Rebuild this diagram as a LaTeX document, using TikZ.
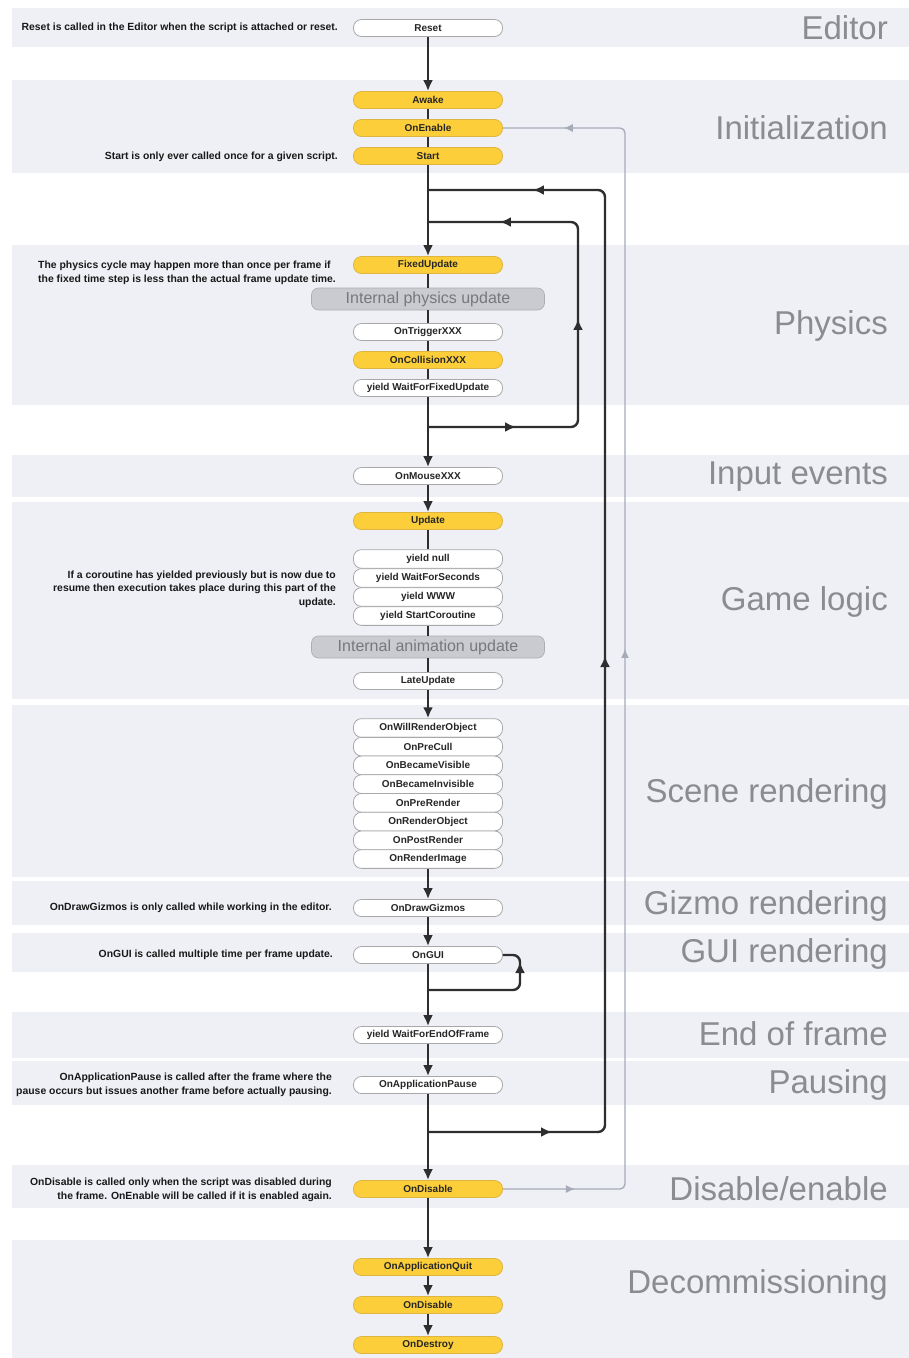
\documentclass[tikz,border=0pt]{standalone}
\usepackage{fontspec}
\setmainfont{Liberation Sans}
\usetikzlibrary{arrows.meta,decorations.markings}
\definecolor{bandcol}{HTML}{EFF0F5}
\definecolor{gold}{HTML}{FCCF3A}
\definecolor{goldline}{HTML}{E0B440}
\definecolor{boxline}{HTML}{A8A8A8}
\definecolor{secgray}{HTML}{8A8C92}
\definecolor{linecol}{HTML}{2E2E2E}
\definecolor{loopgray}{HTML}{A5ABB8}
\definecolor{intfill}{HTML}{C9CBD0}
\definecolor{inttext}{HTML}{76787E}
\tikzset{
 ev/.style={draw=boxline, line width=0.8pt, fill=white, rounded corners=8pt, minimum width=149pt, minimum height=17pt, inner sep=0pt, font=\bfseries\fontsize{10}{11}\selectfont, text=black!85},
 evy/.style={ev, fill=gold, draw=goldline},
 stk/.style={ev, minimum height=18.7pt},
 intbox/.style={fill=intfill, draw=intfill!85!black, line width=0.6pt, rounded corners=7pt, minimum width=233pt, minimum height=22pt, inner sep=0pt, font=\fontsize{16}{18}\selectfont, text=inttext},
 sect/.style={anchor=east, text=secgray, font=\fontsize{33}{36}\selectfont, inner sep=0pt},
 note/.style={font=\bfseries\fontsize{10.4}{13.5}\selectfont, text=black!90, inner sep=0pt, anchor=east, align=right},
 flow/.style={draw=linecol, line width=2.4pt, -{Latex[length=11pt,width=10pt]}},
 link/.style={draw=linecol, line width=2.4pt},
 loopline/.style={draw=linecol, line width=2.4pt, rounded corners=7pt},
 grayloop/.style={draw=loopgray, line width=1.3pt, rounded corners=5pt},
 bandbox/.style={fill=bandcol, draw=none}
}
\begin{document}
\begin{tikzpicture}[x=1pt,y=-1pt]
\useasboundingbox (0,0) rectangle (909,1358);
\fill[white] (0,0) rectangle (909,1358);
% bands
\fill[bandbox] (12,8) rectangle (909,47);
\fill[bandbox] (12,80) rectangle (909,173);
\fill[bandbox] (12,245) rectangle (909,405);
\fill[bandbox] (12,455) rectangle (909,497);
\fill[bandbox] (12,502) rectangle (909,699);
\fill[bandbox] (12,705) rectangle (909,877);
\fill[bandbox] (12,881) rectangle (909,925);
\fill[bandbox] (12,933) rectangle (909,972);
\fill[bandbox] (12,1012) rectangle (909,1058);
\fill[bandbox] (12,1061) rectangle (909,1105);
\fill[bandbox] (12,1165) rectangle (909,1208);
\fill[bandbox] (12,1240) rectangle (909,1358);
% section labels
\node[sect] (lEditor) at (888,28) {Editor};
\node[sect] (lInit) at (888,128) {Initialization};
\node[sect] (lPhys) at (888,326) {Physics};
\node[sect] (lInput) at (888,477) {Input events};
\node[sect] (lGame) at (888,602) {Game logic};
\node[sect] (lScene) at (888,794) {Scene rendering};
\node[sect] (lGizmo) at (888,906) {Gizmo rendering};
\node[sect] (lGUI) at (888,954) {GUI rendering};
\node[sect] (lEnd) at (888,1034) {End of frame};
\node[sect] (lPause) at (888,1085) {Pausing};
\node[sect] (lDis) at (888,1189) {Disable/enable};
\node[sect] (lDecom) at (888,1285) {Decommissioning};
% loop coordinates
\coordinate (o1) at (428,1132); \coordinate (o2) at (605,1132);
\coordinate (o3) at (605,190); \coordinate (o4) at (428,190);
\coordinate (i1) at (428,427); \coordinate (i2) at (578,427);
\coordinate (i3) at (578,222); \coordinate (i4) at (428,222);
\coordinate (g2) at (625,1189); \coordinate (g3) at (625,128);
\coordinate (u1) at (428,990); \coordinate (u2) at (520,990); \coordinate (u3) at (520,955);
% events
\node[ev] (reset) at (428,28) {Reset};
\node[evy] (awake) at (428,100) {Awake};
\node[evy] (onenable) at (428,128) {OnEnable};
\node[evy] (start) at (428,156) {Start};
\node[evy] (fixed) at (428,265) {FixedUpdate};
\node[intbox] (phys) at (428,299) {Internal physics update};
\node[ev] (trigger) at (428,332) {OnTriggerXXX};
\node[evy] (collision) at (428,360) {OnCollisionXXX};
\node[ev] (wffu) at (428,388) {yield WaitForFixedUpdate};
\node[ev] (mouse) at (428,476) {OnMouseXXX};
\node[evy] (update) at (428,521) {Update};
\node[stk] (ynull) at (428,559) {yield null};
\node[stk] (ywfs) at (428,578) {yield WaitForSeconds};
\node[stk] (ywww) at (428,597) {yield WWW};
\node[stk] (ysc) at (428,616) {yield StartCoroutine};
\node[intbox] (anim) at (428,647) {Internal animation update};
\node[ev] (late) at (428,681) {LateUpdate};
\node[stk] (s1) at (428,728) {OnWillRenderObject};
\node[stk] (s2) at (428,746.7) {OnPreCull};
\node[stk] (s3) at (428,765.4) {OnBecameVisible};
\node[stk] (s4) at (428,784.1) {OnBecameInvisible};
\node[stk] (s5) at (428,802.9) {OnPreRender};
\node[stk] (s6) at (428,821.6) {OnRenderObject};
\node[stk] (s7) at (428,840.3) {OnPostRender};
\node[stk] (s8) at (428,859) {OnRenderImage};
\node[ev] (gizmos) at (428,908) {OnDrawGizmos};
\node[ev] (gui) at (428,955) {OnGUI};
\node[ev] (weof) at (428,1035) {yield WaitForEndOfFrame};
\node[ev] (pause) at (428,1085) {OnApplicationPause};
\node[evy] (disable) at (428,1189) {OnDisable};
\node[evy] (quit) at (428,1267) {OnApplicationQuit};
\node[evy] (disable2) at (428,1305) {OnDisable};
\node[evy] (destroy) at (428,1345) {OnDestroy};
% annotations
\node[note] (nReset) at (338,28) {Reset is called in the Editor when the script is attached or reset.};
\node[note] (nStart) at (338,157) {Start is only ever called once for a given script.};
\node[note, anchor=west, align=left] (nPhys) at (38,273) {The physics cycle may happen more than once per frame if\\the fixed time step is less than the actual frame update time.};
\node[note] (nCo) at (336,589) {If a coroutine has yielded previously but is now due to\\resume then execution takes place during this part of the\\update.};
\node[note] (nGiz) at (332,908) {OnDrawGizmos is only called while working in the editor.};
\node[note] (nGUI) at (333,955) {OnGUI is called multiple time per frame update.};
\node[note] (nPause) at (332,1085) {OnApplicationPause is called after the frame where the\\pause occurs but issues another frame before actually pausing.};
\node[note] (nDis) at (332,1190) {OnDisable is called only when the script was disabled during\\the frame. OnEnable will be called if it is enabled again.};
% gray enable/disable loop
\draw[grayloop, postaction={decorate, decoration={markings,
  mark=at position 72pt with {\arrow{Latex[length=9pt,width=8pt,color=loopgray]}},
  mark=at position 660pt with {\arrow{Latex[length=9pt,width=8pt,color=loopgray]}},
  mark=at position 1240pt with {\arrow{Latex[length=9pt,width=8pt,color=loopgray]}}}}]
  (disable.east) -- (g2) -- (g3) -- (onenable.east);
% main frame loop
\draw[loopline, postaction={decorate, decoration={markings,
  mark=at position 124pt with {\arrow{Latex[length=11pt,width=10pt,color=linecol]}},
  mark=at position 650pt with {\arrow{Latex[length=11pt,width=10pt,color=linecol]}},
  mark=at position 1185pt with {\arrow{Latex[length=11pt,width=10pt,color=linecol]}}}}]
  (o1) -- (o2) -- (o3) -- (o4);
% physics loop
\draw[loopline, postaction={decorate, decoration={markings,
  mark=at position 88pt with {\arrow{Latex[length=11pt,width=10pt,color=linecol]}},
  mark=at position 255pt with {\arrow{Latex[length=11pt,width=10pt,color=linecol]}},
  mark=at position 427pt with {\arrow{Latex[length=11pt,width=10pt,color=linecol]}}}}]
  (i1) -- (i2) -- (i3) -- (i4);
% OnGUI loop
\draw[loopline, postaction={decorate, decoration={markings,
  mark=at position 117pt with {\arrow{Latex[length=11pt,width=10pt,color=linecol]}}}}]
  (u1) -- (u2) -- (u3) -- (gui.east);
% main flow
\draw[flow] (reset) -- (awake);
\draw[link] (awake) -- (onenable);
\draw[link] (onenable) -- (start);
\draw[flow] (start) -- (fixed);
\draw[link] (fixed) -- (phys);
\draw[link] (phys) -- (trigger);
\draw[link] (trigger) -- (collision);
\draw[link] (collision) -- (wffu);
\draw[flow] (wffu) -- (mouse);
\draw[flow] (mouse) -- (update);
\draw[link] (update) -- (ynull);
\draw[link] (ysc) -- (anim);
\draw[link] (anim) -- (late);
\draw[flow] (late) -- (s1);
\draw[flow] (s8) -- (gizmos);
\draw[flow] (gizmos) -- (gui);
\draw[flow] (gui) -- (weof);
\draw[flow] (weof) -- (pause);
\draw[flow] (pause) -- (disable);
\draw[flow] (disable) -- (quit);
\draw[flow] (quit) -- (disable2);
\draw[flow] (disable2) -- (destroy);
\end{tikzpicture}
\end{document}
